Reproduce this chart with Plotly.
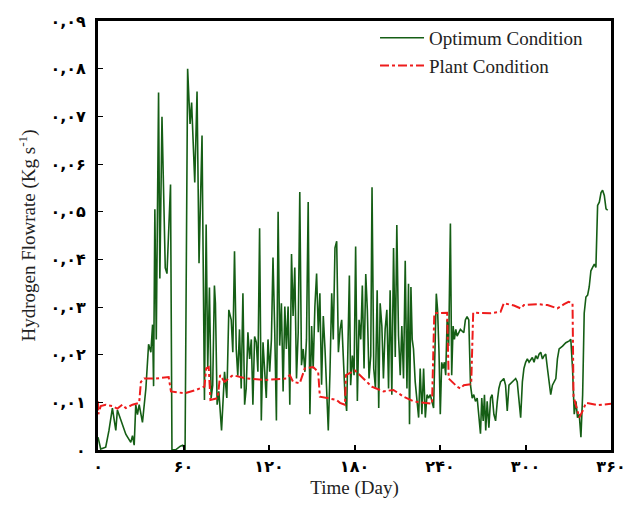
import plotly.graph_objects as go

# Optimum Condition (green) - day, value
opt_day = [0, 1.9, 5.4, 7.7, 10.1, 12.5, 13.6, 16, 19.5, 23, 24.2, 25.4, 26.5, 27.7, 28.9, 31.2, 33.6, 35.5, 37.1, 38.3,
           39, 39.9, 40.9, 42.5, 43.4, 44.9, 46, 47.2, 48.4, 50, 50.9, 51.9, 54.7, 57.8, 59.4, 61.1, 62.9,
           64.6, 65.7, 67.9, 69.5, 70.9, 73, 74.7, 75.9, 77, 78.2, 79.4, 80.5, 81.7, 82.4, 83.6, 84.8, 86.7, 88.8,
           90.4, 91.8, 93.5, 94.6, 95.8, 97, 98.1, 99.3, 100.5, 101.7, 102.9, 104, 105.2, 106.4, 107.6, 108.7, 109.9,
           111.1, 112.2, 113.4, 114.6, 115.8, 117, 118.1, 119.3, 120.5, 121.7, 122.8, 124, 125.2, 126.4, 127.5, 128.7,
           129.9, 131.1, 132.2, 133.4, 134.6, 135.8, 136.9, 138.1, 139.3, 140.5, 141.6, 142.8, 144, 145.2, 146.3, 147.5,
           148.7, 149.9, 151, 152.2, 153.4, 154.6, 155.7, 156.9, 158.1, 159.3, 160.4, 161.6, 162.8, 164, 165.1, 166.3,
           167.5, 168.7, 169.9, 171, 172.1, 173.3, 174.5, 176.4, 177.3, 178.5, 179.7, 180.8, 182, 183.2, 184.4, 185.5,
           186.7, 187.9, 189, 190.2, 191.4, 192.3, 193.5, 194.7, 195.9, 197, 198, 199.2, 200.3, 201.5, 202.7, 203.9,
           205, 206.2, 207.4, 208.6, 209.7, 210.9, 212.1, 213.2, 214.4, 215.6, 216.8, 217.9, 218.6,
           219.6, 220.5, 221.4, 222.6, 223.8, 225, 226.1, 227.3, 228.5, 229.7, 230.9, 232, 233.2, 234.4, 235.5,
           236.7, 237.4, 238.3, 239.3, 240.2, 241.2, 242.1, 243.1, 244, 245, 246.1, 247.3, 248.2, 249.2, 250.1, 251.1,
           252, 254.3, 256.7, 257.8, 259, 260.2, 261.4, 262.6, 263.7, 264.9, 266.1, 267.2, 268.4, 269.3, 270.3, 271.2,
           272.1, 273.1, 274.3, 275.5, 276.6, 277.8, 279, 280.2, 281.3, 282.5, 284.8,
           286, 287.2, 288.4, 290.7, 293.1, 294.2, 295.4, 296.6, 297.8, 298.9, 300.1, 301.3, 302.5, 303.7, 304.8,
           306, 307.2, 308.4, 309.5, 310.7, 311.9, 313.1, 314.2, 315.4, 316.6, 317.7, 318.9, 321.3, 322.4, 323.6,
           326, 328.3, 330.7, 331.8, 333, 334.2, 335.4, 336.5, 337.7, 338.9, 340.1, 341.2, 342.4, 343.6, 344.7,
           345.9, 347.1, 348.3, 349.4, 350.6, 351.8, 353, 354.1, 355.3, 356.5, 357.7]
opt_val = [0.0027, 0.0002, 0.0006, 0.0041, 0.0088, 0.0041, 0.0084, 0.0062, 0.0033, 0.0016, 0.003, 0.001, 0.0095, 0.0074, 0.0095, 0.0058, 0.0129, 0.0222, 0.0205, 0.0263,
           0.0134, 0.0505, 0.0232, 0.075, 0.036, 0.0699, 0.0505, 0.0382, 0.037, 0.0485, 0.0557, 0.0, 0.0001, 0.0008, 0.001, 0.0, 0.080,
           0.0684, 0.0729, 0.0561, 0.0752, 0.0392, 0.066, 0.0105, 0.0473, 0.0171, 0.0341, 0.0109, 0.0136, 0.0345, 0.0308, 0.0095, 0.0123, 0.0041, 0.0164,
           0.0109, 0.0294, 0.0273, 0.0205, 0.0417, 0.0212, 0.0156, 0.0253, 0.0129, 0.0329, 0.0095, 0.0129, 0.0247, 0.0191, 0.0232, 0.0095, 0.0238,
           0.0226, 0.0164, 0.0465, 0.0062, 0.0226, 0.0164, 0.0109, 0.0232, 0.0164, 0.0232, 0.0404, 0.0253, 0.0062, 0.0500, 0.0219, 0.0308,
           0.0123, 0.0301, 0.0212, 0.0301, 0.0095, 0.0411, 0.0281, 0.0383, 0.015, 0.0247, 0.0541, 0.0178, 0.0212, 0.0164, 0.0232, 0.052,
           0.0075, 0.026, 0.0171, 0.0301, 0.0370, 0.0247, 0.0329, 0.0137, 0.0281, 0.0212, 0.0123, 0.0041, 0.0164, 0.0329, 0.0232, 0.0424,
           0.0438, 0.0205, 0.0253, 0.0273, 0.0198, 0.0116, 0.0082, 0.0366, 0.0136, 0.0198, 0.0157, 0.0427, 0.0103, 0.0273, 0.0232, 0.0345,
           0.0171, 0.0369, 0.0294, 0.015, 0.0198, 0.0551, 0.0171, 0.0129, 0.0335, 0.0088, 0.0308, 0.026, 0.015, 0.0253, 0.0294, 0.0129,
           0.0335, 0.0116, 0.0424, 0.0195, 0.0472, 0.0239, 0.0157, 0.026, 0.015, 0.0397, 0.0129, 0.0349, 0.0054,
           0.0342, 0.0232, 0.0212, 0.0143, 0.0102, 0.0068, 0.0171, 0.0075, 0.0171, 0.0068, 0.0116, 0.0109, 0.0116, 0.0102, 0.0088,
           0.0239, 0.0328, 0.0294, 0.0205, 0.0075, 0.0184, 0.0171, 0.0184, 0.0157, 0.0273, 0.0218, 0.0475, 0.0157, 0.026, 0.0232, 0.0253,
           0.0239, 0.0253, 0.0246, 0.0273, 0.028, 0.0273, 0.0136, 0.0109, 0.0116, 0.0102, 0.0109, 0.0068, 0.0034, 0.0109, 0.0061, 0.0116,
           0.0041, 0.0102, 0.0047, 0.0109, 0.0116, 0.0075, 0.0061, 0.0102, 0.0129, 0.0143, 0.015,
           0.0136, 0.0082, 0.0136, 0.0143, 0.015, 0.0143, 0.0102, 0.0068, 0.0143, 0.0171, 0.0184, 0.0191, 0.0184, 0.0191, 0.0194,
           0.0184, 0.0198, 0.0191, 0.0201, 0.0205, 0.0191, 0.0198, 0.0201, 0.0171, 0.0143, 0.0116, 0.0136, 0.015, 0.0191, 0.0212,
           0.0218, 0.0225, 0.0229, 0.0232, 0.0171, 0.0075, 0.0102, 0.0068, 0.0075, 0.0027, 0.0116, 0.0287, 0.0321, 0.0325, 0.0342,
           0.0376, 0.0383, 0.0390, 0.0383, 0.0513, 0.052, 0.054, 0.0545, 0.0534, 0.0506, 0.0503]

# Plant Condition (red) - day, value
plant_day = [0, 0.2, 1.9, 5.4, 10.1, 13.6, 17.1, 19.5, 24.2, 28.9, 30.1, 32.4, 40.6, 49.6, 51.2, 60.6, 68.8, 74.7,
             75.9, 77.7, 78.9, 84, 85.7, 88.8, 94.6, 104, 118.1, 132.2, 134.6, 136.9, 141.6, 145.1, 151, 154.5,
             155.7, 167.5, 169.8, 173.3, 174, 180.3, 186.2, 192.1, 200.3, 207.3, 214.4, 221.4, 234.4, 236, 245,
             246.1, 252, 254.3, 256.7, 261.9, 263.3, 275.5, 282.5, 284.8, 291.9, 296.6, 298.9, 308.4, 315.4, 322.4,
             327.1, 330.2, 333, 333.7, 336.5, 337.7, 340.1, 342.4, 350.6, 360]
plant_val = [0.0102, 0.0075, 0.0092, 0.0095, 0.0092, 0.0087, 0.0095, 0.0088, 0.0095, 0.0099, 0.0143, 0.015, 0.015, 0.0153, 0.0123, 0.0119, 0.0126, 0.0133,
             0.0171, 0.0174, 0.0105, 0.0109, 0.0157, 0.0143, 0.0157, 0.015, 0.0147, 0.015, 0.0157, 0.0143, 0.014, 0.0171, 0.0174, 0.0164,
             0.0112, 0.0105, 0.0099, 0.0095, 0.0157, 0.0167, 0.015, 0.0133, 0.0123, 0.0126, 0.0112, 0.0102, 0.0097, 0.0287, 0.0288,
             0.015, 0.0133, 0.0129, 0.0136, 0.0138, 0.0288, 0.0287, 0.029, 0.0308, 0.0303, 0.0297, 0.0304, 0.0306, 0.0304, 0.0297,
             0.0306, 0.0311, 0.0308, 0.0112, 0.0082, 0.0068, 0.0082, 0.0099, 0.0094, 0.0097]

fa = "۰۱۲۳۴۵۶۷۸۹"
def fa_num(s):
    return "".join(fa[int(c)] if c.isdigit() else c for c in s)

y_ticks = [0, 0.01, 0.02, 0.03, 0.04, 0.05, 0.06, 0.07, 0.08, 0.09]
y_labels = ["۰"] + [fa_num("0,0%d" % i) for i in range(1, 10)]
x_ticks = [0, 60, 120, 180, 240, 300, 360]
x_labels = [fa_num(str(v)) for v in x_ticks]

fig = go.Figure()
fig.add_trace(go.Scatter(x=opt_day, y=opt_val, mode="lines", name="Optimum Condition",
                         line=dict(color="#155e15", width=1.6)))
fig.add_trace(go.Scatter(x=plant_day, y=plant_val, mode="lines", name="Plant Condition",
                         line=dict(color="#ee1c1c", width=2, dash="dashdot")))

serif = "Liberation Serif, Times New Roman, serif"
fig.update_layout(
    width=641, height=508,
    margin=dict(l=98, r=30, t=15, b=55),
    paper_bgcolor="white", plot_bgcolor="white",
    showlegend=True,
    legend=dict(x=0.54, y=1.005, xanchor="left", yanchor="top",
                bgcolor="rgba(0,0,0,0)", font=dict(family=serif, size=19, color="#222"),
                tracegroupgap=0, itemwidth=44),
    xaxis=dict(range=[0, 360], tickmode="array", tickvals=x_ticks, ticktext=x_labels,
               ticks="inside", ticklen=5, tickwidth=2, tickcolor="black",
               showline=True, linewidth=3, linecolor="black", mirror=True, showgrid=False, zeroline=False,
               tickfont=dict(family="DejaVu Sans", size=16, color="black", weight="bold"),
               title=dict(text="Time (Day)", font=dict(family=serif, size=19, color="#222"), standoff=6)),
    yaxis=dict(range=[0, 0.09], tickmode="array", tickvals=y_ticks, ticktext=y_labels,
               ticks="inside", ticklen=5, tickwidth=1, tickcolor="black",
               showline=True, linewidth=3, linecolor="black", mirror=True, showgrid=False, zeroline=False,
               ticklabelstandoff=6,
               tickfont=dict(family="DejaVu Sans", size=16, color="black", weight="bold"),
               title=dict(text="Hydrogen Flowrate (Kg s<sup>-1</sup>)", font=dict(family=serif, size=19, color="#222"), standoff=10)),
)
fig.write_html("out.html")
